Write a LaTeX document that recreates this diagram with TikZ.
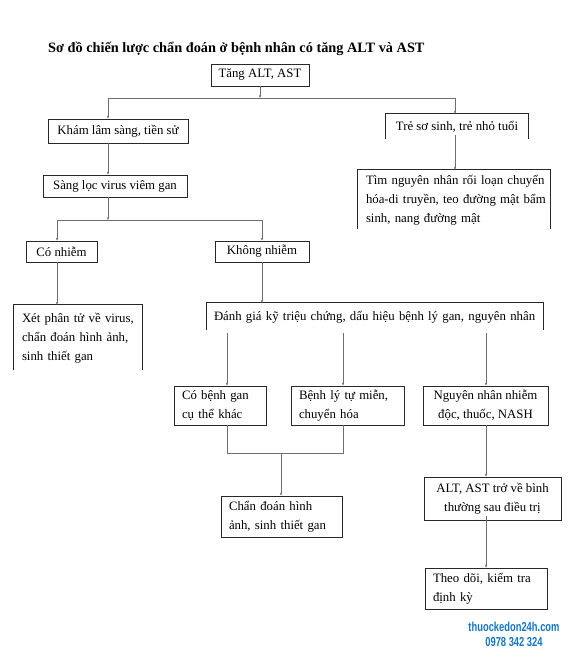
\documentclass[tikz,border=0pt]{standalone}
\usepackage{fontspec}
\setmainfont{Liberation Serif}
\newfontfamily\wmfont[FakeStretch=0.72]{Liberation Sans}
\usetikzlibrary{arrows.meta}
\definecolor{wmblue}{RGB}{20,118,196}
\definecolor{boxcol}{RGB}{40,40,40}
\definecolor{conncol}{RGB}{110,110,110}
\newcommand{\bodyfnt}{\fontsize{12.8}{19}\selectfont}
\newcommand{\boxlines}[1]{\begin{tabular}{@{}l@{}}#1\end{tabular}}
\newcommand{\boxclines}[1]{\begin{tabular}{@{}c@{}}#1\end{tabular}}
\tikzset{
  box/.style={draw=boxcol, line width=0.8pt, inner sep=0pt, font=\bodyfnt, text=black},
  obox/.style={inner sep=0pt, font=\bodyfnt, text=black},
  boxline/.style={draw=boxcol, line width=0.8pt},
  conn/.style={draw=conncol, line width=0.6pt},
  arr/.style={conn, -{Stealth[length=3pt,width=2.4pt]}}
}
\begin{document}
\begin{tikzpicture}[x=1pt,y=-1pt]
\useasboundingbox[fill=white] (0,0) rectangle (570,657);
% title
\node[anchor=base west, inner sep=0pt, font=\bfseries\fontsize{14.3}{16}\selectfont] (title) at (48,52) {Sơ đồ chiến lược chẩn đoán ở bệnh nhân có tăng ALT và AST};
% nodes
\node[box, minimum width=98pt, minimum height=22pt] (tang) at (260,75) {Tăng ALT, AST};
\node[box, minimum width=140pt, minimum height=24pt] (kham) at (118,131) {Khám lâm sàng, tiền sử};
\node[obox, minimum width=142pt, minimum height=25pt] (tre) at (457,126.5) {Trẻ sơ sinh, trẻ nhỏ tuổi};
\node[box, minimum width=144pt, minimum height=22pt] (sang) at (115,186) {Sàng lọc virus viêm gan};
\node[obox, text width=176pt, inner xsep=8pt, align=left, minimum height=59pt] (tim) at (454,199.5) {\boxlines{Tìm nguyên nhân rối loạn chuyển\\hóa-di truyền, teo đường mật bẩm\\sinh, nang đường mật}};
\node[box, minimum width=71pt, minimum height=21pt] (conhiem) at (61.5,251.5) {Có nhiễm};
\node[box, minimum width=94pt, minimum height=21pt] (khong) at (262,251.5) {Không nhiễm};
\node[obox, text width=112pt, inner xsep=8pt, align=left, minimum height=65pt] (xet) at (78,337.5) {\boxlines{Xét phân tử về virus,\\chẩn đoán hình ảnh,\\sinh thiết gan}};
\node[obox, text width=322pt, inner xsep=7pt, align=left, minimum height=27pt] (danh) at (375,316.5) {\boxlines{Đánh giá kỹ triệu chứng, dấu hiệu bệnh lý gan, nguyên nhân}};
\node[box, text width=76pt, inner xsep=8pt, align=left, minimum height=39pt] (cobenh) at (220,405.5) {\boxlines{Có bệnh gan\\cụ thể khác}};
\node[box, text width=97pt, inner xsep=8pt, align=left, minimum height=39pt] (benhly) at (347.5,405.5) {\boxlines{Bệnh lý tự miễn,\\chuyển hóa}};
\node[box, minimum width=125pt, minimum height=39pt] (nguyen) at (485.5,405.5) {\boxclines{Nguyên nhân nhiễm\\độc, thuốc, NASH}};
\node[box, text width=105pt, inner xsep=8pt, align=left, minimum height=41pt] (chan) at (281.5,516.5) {\boxlines{Chẩn đoán hình\\ảnh, sinh thiết gan}};
\node[box, minimum width=137pt, minimum height=43pt] (altast) at (492.5,498.5) {\boxclines{ALT, AST trở về bình\\thường sau điều trị}};
\node[box, text width=106pt, inner xsep=8pt, align=left, minimum height=41pt] (theo) at (486,588.5) {\boxlines{Theo dõi, kiểm tra\\định kỳ}};
% open boxes
\draw[boxline] (tre.south west) -- (tre.north west) -- (tre.north east) -- (tre.south east);
\draw[boxline] (tim.south west) -- (tim.north west) -- (tim.north east) -- (tim.south east);
\draw[boxline] (xet.south west) -- (xet.north west) -- (xet.north east) -- (xet.south east);
\draw[boxline] (danh.south west) -- (danh.north west) -- (danh.north east) -- (danh.south east);
% watermark
\node[font=\wmfont\bfseries\fontsize{13}{15}\selectfont, text=wmblue, align=center, inner sep=0pt] (wm) at (514,634) {thuockedon24h.com\\0978 342 324};
% connectors
\coordinate (j1) at (260,98);
\coordinate (jl) at (108,98);
\coordinate (jr) at (455,98);
\draw[arr] (tang.south) -- (j1);
\draw[conn] (jl) -- (jr);
\draw[arr] (jl) -- (jl |- kham.north);
\draw[arr] (jr) -- (jr |- tre.north);
\draw[arr] ([yshift=4pt]jr |- tre.south) -- (jr |- tim.north);
\draw[arr] (jl |- kham.south) -- (jl |- sang.north);
\coordinate (j2) at (108,220);
\coordinate (j2l) at (57,220);
\coordinate (j2r) at (262,220);
\draw[arr] (jl |- sang.south) -- (j2);
\draw[conn] (j2l) -- (j2r);
\draw[arr] (j2l) -- (j2l |- conhiem.north);
\draw[arr] (j2r) -- (j2r |- khong.north);
\draw[arr] (j2l |- conhiem.south) -- (j2l |- xet.north);
\draw[arr] (j2r |- khong.south) -- (j2r |- danh.north);
\coordinate (d1) at (227,333);
\coordinate (d2) at (343,333);
\coordinate (d3) at (486,333);
\draw[arr] (d1) -- (d1 |- cobenh.north);
\draw[arr] (d2) -- (d2 |- benhly.north);
\draw[arr] (d3) -- (d3 |- nguyen.north);
\coordinate (m1) at (227,453);
\coordinate (m2) at (343,453);
\coordinate (m3) at (281,453);
\draw[conn] (m1 |- cobenh.south) -- (m1) -- (m2) -- (m2 |- benhly.south);
\draw[arr] (m3) -- (m3 |- chan.north);
\draw[arr] (d3 |- nguyen.south) -- (d3 |- altast.north);
\draw[arr] ([yshift=4pt]d3 |- altast.south) -- (d3 |- theo.north);
\end{tikzpicture}
\end{document}
